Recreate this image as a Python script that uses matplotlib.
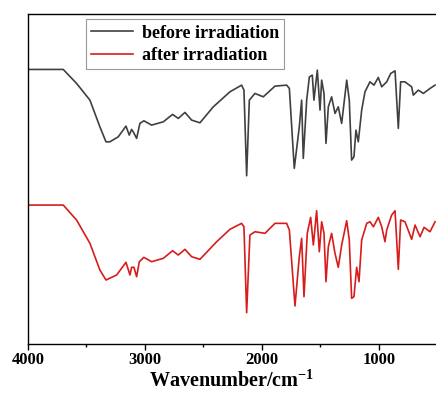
import numpy as np
import matplotlib
matplotlib.use("Agg")
import matplotlib.pyplot as plt
from matplotlib.ticker import MultipleLocator

plt.rcParams['font.family'] = ['Liberation Serif', 'DejaVu Serif']
plt.rcParams['mathtext.fontset'] = 'custom'
plt.rcParams['mathtext.rm'] = 'Liberation Serif'
plt.rcParams['mathtext.bf'] = 'Liberation Serif:bold'

# FTIR spectra (wavenumber in cm-1, transmittance in arbitrary units, offset)
wn_before = [3997, 3698, 3584, 3470, 3385, 3333, 3299, 3228, 3162, 3134, 3114, 3100,
             3071, 3043, 3009, 2943, 2843, 2764, 2715, 2658, 2601, 2530, 2416, 2274,
             2174, 2154, 2131, 2108, 2060, 1989, 1889, 1789, 1766, 1724, 1681, 1661,
             1647, 1618, 1595, 1570, 1556, 1527, 1504, 1490, 1470, 1453, 1433, 1405,
             1376, 1348, 1319, 1276, 1254, 1234, 1214, 1197, 1177, 1148, 1120, 1077,
             1043, 1006, 977, 934, 900, 863, 835, 815, 778, 721, 707, 664, 621, 564, 521]
t_before = [274.7, 274.7, 260.7, 244, 217.3, 202.3, 202.3, 207.3, 218, 209, 214.7, 212.3,
            205.7, 220.7, 223.3, 219, 222.3, 229.7, 225.7, 231.7, 224, 221.3, 237.3, 252.3,
            259, 254, 168.3, 244, 250.7, 247.3, 258, 259, 255.7, 175.7, 217.3, 244,
            185.7, 244, 267.3, 269, 244, 274, 234, 264, 250.7, 200.7, 237.3, 247.3,
            230.7, 237.3, 220.7, 264, 244, 184, 187.3, 214, 202.3, 234, 252.3, 262.3,
            259, 266.7, 257.3, 262.3, 270.7, 273.3, 215.7, 262.3, 262.3, 257.3, 249, 254, 250.7, 255.7, 259]

wn_after = [3997, 3698, 3584, 3470, 3385, 3333, 3242, 3162, 3128, 3114, 3094, 3071,
            3048, 3009, 2943, 2843, 2764, 2715, 2658, 2601, 2530, 2387, 2274, 2174,
            2154, 2131, 2103, 2060, 1974, 1889, 1789, 1766, 1718, 1681, 1661, 1641,
            1613, 1584, 1561, 1533, 1510, 1490, 1470, 1453, 1433, 1405, 1376, 1348,
            1319, 1276, 1254, 1234, 1214, 1191, 1171, 1148, 1105, 1077, 1048, 1006,
            977, 949, 934, 892, 863, 835, 815, 778, 721, 692, 649, 615, 564, 521]
t_after = [139, 139, 124, 100.7, 74, 64, 69, 81.7, 69, 76.7, 76.7, 67.3,
           82.3, 86.7, 82.3, 85.7, 93.3, 89, 94.7, 87.3, 84.7, 102.3, 114.7, 120.7,
           117.3, 31.3, 109, 112.3, 110.7, 120.7, 120.7, 114, 38, 87.3, 105.7, 47.3,
           110.7, 126.7, 99, 133.3, 92.3, 122.3, 110.7, 62.3, 97.3, 110.7, 90.7, 76.7,
           99, 123.3, 104, 45.7, 47.3, 76.7, 62.3, 104, 120.7, 122.3, 117.3, 126.7,
           117.3, 102.3, 114, 129, 133.3, 74.7, 124, 122.3, 104.7, 119, 107.3, 116.7, 112.3, 122.3]

fig = plt.figure(figsize=(4.36, 3.94), dpi=100)
ax = fig.add_axes([0.064, 0.127, 0.936, 0.837])

ax.plot(wn_before, t_before, color='#404040', lw=1.2, label='before irradiation')
ax.plot(wn_after, t_after, color='#d81c1c', lw=1.2, label='after irradiation')

ax.set_xlim(4000, 513)
ax.set_ylim(0, 330)
ax.xaxis.set_major_locator(MultipleLocator(1000))
ax.xaxis.set_minor_locator(MultipleLocator(500))
ax.set_yticks([])
ax.spines['right'].set_visible(False)
for s in ['left', 'bottom', 'top']:
    ax.spines[s].set_linewidth(1.0)
ax.tick_params(axis='x', which='major', length=4, width=1, direction='out', pad=2)
ax.tick_params(axis='x', which='minor', length=2.5, width=1, direction='out')
for lab in ax.get_xticklabels():
    lab.set_fontweight('bold')
    lab.set_fontsize(12)

ax.set_xlabel('Wavenumber/cm$^{\\mathbf{-1}}$', fontsize=14.5, fontweight='bold', labelpad=1.5)

leg = ax.legend(loc='upper left', bbox_to_anchor=(0.142, 0.985), fancybox=False,
                edgecolor='#999999', framealpha=1, handlelength=2.3, handletextpad=0.5,
                borderpad=0.3, labelspacing=0.3, borderaxespad=0,
                prop={'family': 'Liberation Serif', 'weight': 'bold', 'size': 13})
leg.get_frame().set_linewidth(0.8)

fig.savefig('out.png', dpi=100)
